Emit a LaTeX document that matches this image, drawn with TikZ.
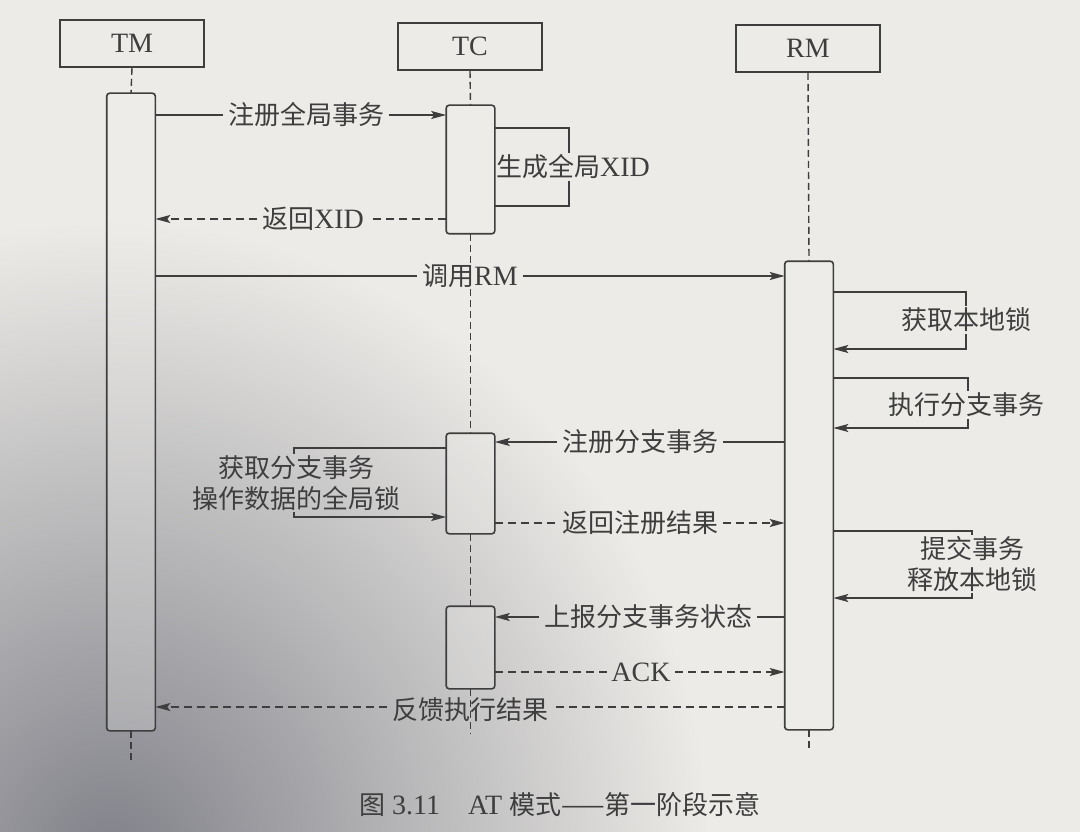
\documentclass[tikz,border=0pt]{standalone}
\usepackage{fontspec}
\setmainfont{Liberation Serif}
\newfontfamily\cjkfont{Noto Sans CJK SC}
\newcommand\zh[1]{{\cjkfont\fontsize{26}{31}\selectfont #1}}
\usetikzlibrary{arrows.meta}
\definecolor{paper}{RGB}{237,235,231}
\definecolor{shadow}{RGB}{128,129,137}
\definecolor{ink}{RGB}{62,62,62}

\begin{document}
\begin{tikzpicture}[x=1pt,y=-1pt,
  color=ink, line width=1.6pt,
  font=\fontsize{28}{31}\selectfont,
  msg/.style={-{Stealth[length=15pt,width=8pt,inset=3pt]}},
  dashedline/.style={dash pattern=on 8pt off 5pt},
  lifeline/.style={dash pattern=on 7pt off 4pt, line width=1.4pt},
  headbox/.style={draw, minimum width=144pt, minimum height=47pt, inner sep=0pt},
  actbox/.style={minimum width=47pt, inner sep=0pt},
  lbl/.style={inner xsep=4pt, inner ysep=1pt, align=center},
]
% page with its uneven light
\useasboundingbox (0,0) rectangle (1080,832);
\begin{scope}
  \clip (0,0) rectangle (1080,832);
  \fill[paper] (0,0) rectangle (1080,832);
  \shade[inner color=shadow, outer color=paper] (110,860) ellipse (600 and 640);
\end{scope}

% participants
\node[headbox] (tmH) at (132,43.5) {TM};
\node[headbox] (tcH) at (470,46.5) {TC};
\node[headbox] (rmH) at (808,48.5) {RM};

% activation bars (named here, outlined at the end)
\node[actbox, minimum height=636pt] (tmA)  at (131,412)     {};
\node[actbox, minimum height=127pt] (tcA1) at (470.5,169.5) {};
\node[actbox, minimum height=99pt]  (tcA2) at (470.5,483.5) {};
\node[actbox, minimum height=81pt]  (tcA3) at (470.5,647.5) {};
\node[actbox, minimum height=467pt] (rmA)  at (809,495.5)   {};

% labels
\node[lbl] (m1)  at (306,115) {\zh{注册全局事务}};
\node[lbl] (m2)  at (573,167) {\zh{生成全局}XID};
\node[lbl] (m3)  at (313,219) {\zh{返回}XID};
\node[lbl] (m4)  at (470,276) {\zh{调用}RM};
\node[lbl] (m5)  at (966,320) {\zh{获取本地锁}};
\node[lbl] (m6)  at (966,405) {\zh{执行分支事务}};
\node[lbl] (m7)  at (640,442) {\zh{注册分支事务}};
\node[lbl] (m8)  at (296,483) {\zh{获取分支事务}\\\zh{操作数据的全局锁}};
\node[lbl] (m9)  at (640,523) {\zh{返回注册结果}};
\node[lbl] (m10) at (972,564) {\zh{提交事务}\\\zh{释放本地锁}};
\node[lbl] (m11) at (648,617) {\zh{上报分支事务状态}};
\node[lbl] (m12) at (641,672) {ACK};
\node[lbl] (m13) at (470,710) {\zh{反馈执行结果}};

% TM -> TC: register global transaction
\draw (tmA.east |- m1) -- (m1.west);
\draw[msg] (m1.east) -- (tcA1.west |- m1);

% TC self call: generate XID
\draw (tcA1.east |- 0,128) -- (569,128) -- (m2.north -| 569,0);
\draw (m2.south -| 569,0) -- (569,206) -- (tcA1.east |- 0,206);

% TC -> TM: XID
\draw[dashedline] (tcA1.west |- m3) -- (m3.east);
\draw[dashedline, msg] (m3.west) -- (tmA.east |- m3);

% TM -> RM
\draw (tmA.east |- m4) -- (m4.west);
\draw[msg] (m4.east) -- (rmA.west |- m4);

% RM self calls
\draw (rmA.east |- 0,292) -- (966,292) -- (m5.north -| 966,0);
\draw[msg] (m5.south -| 966,0) -- (966,349) -- (rmA.east |- 0,349);
\draw (rmA.east |- 0,378) -- (968,378) -- (m6.north -| 968,0);
\draw[msg] (m6.south -| 968,0) -- (968,428) -- (rmA.east |- 0,428);

% RM -> TC: register branch
\draw (rmA.west |- m7) -- (m7.east);
\draw[msg] (m7.west) -- (tcA2.east |- m7);

% TC self call: global lock
\draw (tcA2.west |- 0,448) -- (294,448) -- (m8.north -| 294,0);
\draw[msg] (m8.south -| 294,0) -- (294,517) -- (tcA2.west |- 0,517);

% TC -> RM: registration result
\draw[dashedline] (tcA2.east |- m9) -- (m9.west);
\draw[dashedline, msg] (m9.east) -- (rmA.west |- m9);

% RM self call: commit, release local lock
\draw (rmA.east |- 0,531) -- (972,531) -- (m10.north -| 972,0);
\draw[msg] (m10.south -| 972,0) -- (972,598) -- (rmA.east |- 0,598);

% RM -> TC: report branch status
\draw (rmA.west |- m11) -- (m11.east);
\draw[msg] (m11.west) -- (tcA3.east |- m11);

% TC -> RM: ACK
\draw[dashedline] (tcA3.east |- 0,672) -- (m12.west |- 0,672);
\draw[dashedline, msg] (m12.east |- 0,672) -- (rmA.west |- 0,672);

% RM -> TM: result
\draw[dashedline] (rmA.west |- 0,707) -- (m13.east |- 0,707);
\draw[dashedline, msg] (m13.west |- 0,707) -- (tmA.east |- 0,707);

% lifelines
\draw[lifeline] (tmH.south) -- (tmA.north);
\draw[lifeline] (tmA.south) -- ++(0,30);
\draw[lifeline] (tcH.south) -- (tcA1.north);
\draw[lifeline] (tcA1.south) -- (tcA2.north);
\draw[lifeline] (tcA2.south) -- (tcA3.north);
\draw[lifeline] (tcA3.south) -- ++(0,45);
\draw[lifeline] (rmH.south) -- (rmA.north);
\draw[lifeline] (rmA.south) -- ++(0,19);

% activation bars
\foreach \n in {tmA,tcA1,tcA2,tcA3,rmA}
  \draw[fill=paper!70!white, fill opacity=0.25, rounded corners=3pt] (\n.north west) rectangle (\n.south east);

% caption
\node (caption) at (560,805) {\zh{图} 3.11\quad AT \zh{模式——第一阶段示意}};
\end{tikzpicture}
\end{document}
